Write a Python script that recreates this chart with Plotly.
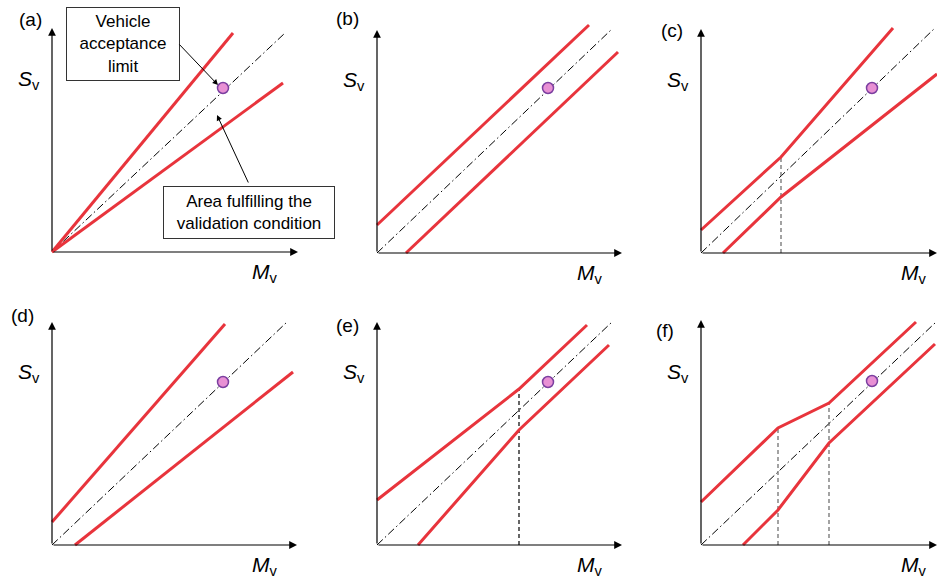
import plotly.graph_objects as go

W, H = 937, 580

# ---------------- data (panel-local units: M_v to the right, S_v upwards, origin at axes origin) ----
panel_ids = ["a", "b", "c", "d", "e", "f"]
panel_labels = ["(a)", "(b)", "(c)", "(d)", "(e)", "(f)"]
x_label = "<i>M</i><sub>v</sub>"
y_label = "<i>S</i><sub>v</sub>"
box1_text = "Vehicle<br>acceptance<br>limit"
box2_text = "Area fulfilling the<br>validation condition"

upper_x_a = [0, 181];            upper_y_a = [0, 219]
lower_x_a = [0, 231];            lower_y_a = [0, 169]
upper_x_b = [0, 212];            upper_y_b = [28, 228]
lower_x_b = [29, 241];           lower_y_b = [0, 201]
upper_x_c = [0, 80, 192];        upper_y_c = [23, 96, 225]
lower_x_c = [22, 80, 236];       lower_y_c = [0, 56, 179]
upper_x_d = [0, 173];            upper_y_d = [23, 221]
lower_x_d = [23, 241];           lower_y_d = [0, 173]
upper_x_e = [0, 142, 210];       upper_y_e = [45, 156, 220]
lower_x_e = [41, 142, 232];      lower_y_e = [0, 115, 200]
upper_x_f = [0, 77, 128, 215];   upper_y_f = [43, 117, 142, 223]
lower_x_f = [42, 77, 128, 234];  lower_y_f = [0, 35, 102, 201]

diag_end_x = [233, 235, 234, 235, 235, 234]
diag_end_y = [219, 224, 225, 223, 223, 222]
limit_x = [171, 171, 171, 171, 171, 171]
limit_y = [164, 165, 165, 163, 163, 164]

# vertical guides: (x, top y)
guides_c = [(80, 96)]
guides_e = [(142, 156)]
guides_f = [(77, 117), (128, 142)]

# axis arrow lengths
x_axis_len = [246, 245, 236, 245, 245, 236]
y_axis_len = [224, 223, 224, 223, 223, 225]

upper = {"a": (upper_x_a, upper_y_a), "b": (upper_x_b, upper_y_b), "c": (upper_x_c, upper_y_c),
         "d": (upper_x_d, upper_y_d), "e": (upper_x_e, upper_y_e), "f": (upper_x_f, upper_y_f)}
lower = {"a": (lower_x_a, lower_y_a), "b": (lower_x_b, lower_y_b), "c": (lower_x_c, lower_y_c),
         "d": (lower_x_d, lower_y_d), "e": (lower_x_e, lower_y_e), "f": (lower_x_f, lower_y_f)}
guides = {"c": guides_c, "e": guides_e, "f": guides_f}

# ---------------- layout (pixel positions) ----------------
origins = {"a": (52, 252), "b": (377, 253), "c": (701, 253),
           "d": (52, 545), "e": (377, 545), "f": (701, 545)}
label_pos = {"a": (-22, 233), "b": (-30, 234), "c": (-29, 222),
             "d": (-30, 230), "e": (-30, 220), "f": (-36, 215)}

RED = "#e8343c"
FONT = "Liberation Sans, Arial, Helvetica, sans-serif"

fig = go.Figure()
layout = dict(width=W, height=H, margin=dict(l=0, r=0, t=0, b=0),
              paper_bgcolor="white", plot_bgcolor="rgba(0,0,0,0)", showlegend=False,
              font=dict(family=FONT, color="black"))
annotations = []

for i, pid in enumerate(panel_ids):
    n = i + 1
    xa = "x" if n == 1 else f"x{n}"
    ya = "y" if n == 1 else f"y{n}"
    ox, oy = origins[pid]
    left = max(0, ox - 50)
    right = min(W, ox + 250 + (60 if pid == "a" else 0))
    top = max(0, oy - 250)
    bottom = min(H, oy + 35)
    layout["xaxis" if n == 1 else f"xaxis{n}"] = dict(
        domain=[left / W, right / W], range=[left - ox, right - ox], visible=False,
        anchor=ya, fixedrange=True)
    layout["yaxis" if n == 1 else f"yaxis{n}"] = dict(
        domain=[1 - bottom / H, 1 - top / H], range=[oy - bottom, oy - top], visible=False,
        anchor=xa, fixedrange=True)

    # diagonal dash-dot
    fig.add_trace(go.Scatter(x=[0, diag_end_x[i]], y=[0, diag_end_y[i]], mode="lines",
                             line=dict(color="black", width=1, dash="8px,3px,1.5px,3px"),
                             xaxis=xa, yaxis=ya, hoverinfo="skip"))
    # vertical guides
    for gx, gy in guides.get(pid, []):
        fig.add_trace(go.Scatter(x=[gx, gx], y=[0, gy], mode="lines",
                                 line=dict(color="black" if pid == "e" else "#666666",
                                           width=1.2, dash="4px,3px"),
                                 xaxis=xa, yaxis=ya, hoverinfo="skip"))
    # red boundary lines
    for ux, uy in (upper[pid], lower[pid]):
        fig.add_trace(go.Scatter(x=ux, y=uy, mode="lines",
                                 line=dict(color=RED, width=3),
                                 xaxis=xa, yaxis=ya, hoverinfo="skip"))
    # vehicle acceptance limit point
    fig.add_trace(go.Scatter(x=[limit_x[i]], y=[limit_y[i]], mode="markers",
                             marker=dict(size=11, color="#e890d4",
                                         line=dict(color="#7b3fa0", width=1.5)),
                             xaxis=xa, yaxis=ya, hoverinfo="skip"))

    # axes with arrows
    for (hx, hy) in ((x_axis_len[i], 0), (0, y_axis_len[i])):
        annotations.append(dict(x=hx, y=hy, ax=0, ay=0, xref=xa, yref=ya, axref=xa, ayref=ya,
                                text="", showarrow=True, arrowhead=2, arrowsize=1.3,
                                arrowwidth=1.2, arrowcolor="black"))
    # texts
    lx, ly = label_pos[pid]
    annotations.append(dict(x=lx, y=ly, xref=xa, yref=ya, text=panel_labels[i],
                            showarrow=False, font=dict(size=19, family=FONT)))
    annotations.append(dict(x=-23, y=172, xref=xa, yref=ya, text=y_label,
                            showarrow=False, font=dict(size=21, family=FONT)))
    annotations.append(dict(x=213, y=-21, xref=xa, yref=ya, text=x_label,
                            showarrow=False, font=dict(size=21, family=FONT)))

    if pid == "a":
        annotations.append(dict(x=71, y=208, xref=xa, yref=ya, text=box1_text, showarrow=False,
                                font=dict(size=17, family=FONT), bordercolor="#333333",
                                borderwidth=1, borderpad=0, bgcolor="white",
                                width=112, height=72, align="center"))
        annotations.append(dict(x=197, y=40, xref=xa, yref=ya, text=box2_text, showarrow=False,
                                font=dict(size=17, family=FONT), bordercolor="#333333",
                                borderwidth=1, borderpad=0, bgcolor="white",
                                width=170, height=51, align="center"))
        annotations.append(dict(x=166, y=167, ax=126, ay=209, xref=xa, yref=ya, axref=xa, ayref=ya,
                                text="", showarrow=True, arrowhead=2, arrowsize=1.1,
                                arrowwidth=1, arrowcolor="black"))
        annotations.append(dict(x=165, y=137, ax=197, ay=68, xref=xa, yref=ya, axref=xa, ayref=ya,
                                text="", showarrow=True, arrowhead=2, arrowsize=1.1,
                                arrowwidth=1, arrowcolor="black"))

layout["annotations"] = annotations
fig.update_layout(**layout)
fig.write_html("out.html", config={"displayModeBar": False},
               post_script="document.body.style.margin='0';")
